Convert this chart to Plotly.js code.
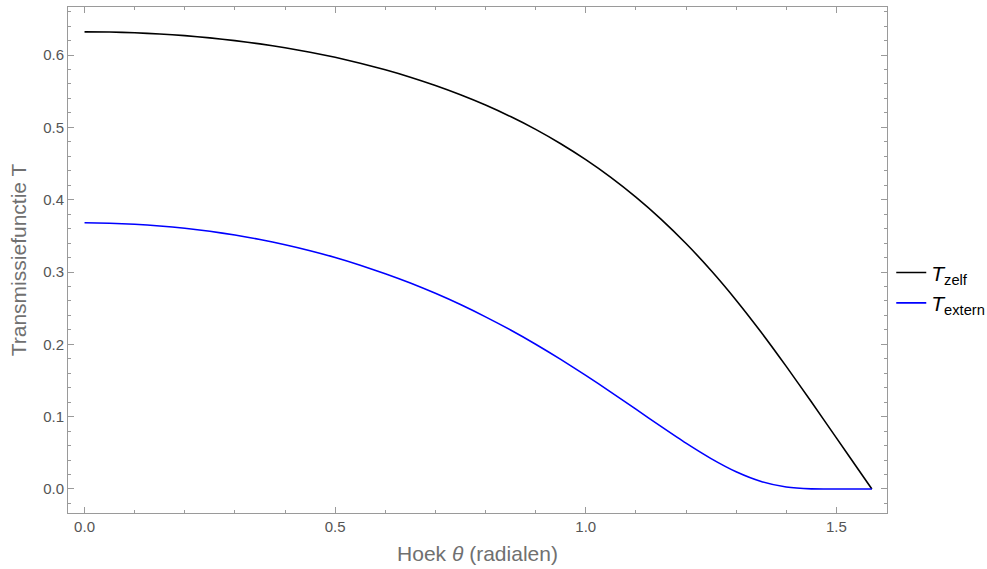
<!DOCTYPE html>
<html>
<head>
<meta charset="utf-8">
<script src="https://cdn.plot.ly/plotly-3.0.1.min.js"></script>
<style>html,body{margin:0;padding:0;background:#fff;}#chart{width:987px;height:569px;}</style>
</head>
<body>
<div id="chart"></div>
<script>
const theta = [0, 0.05, 0.1, 0.15, 0.2, 0.25, 0.3, 0.35, 0.4, 0.45, 0.5, 0.55, 0.6, 0.65, 0.7, 0.75, 0.8, 0.85, 0.9, 0.95, 1.0, 1.05, 1.1, 1.15, 1.2, 1.25, 1.3, 1.35, 1.4, 1.45, 1.5, 1.55, 1.5708];
const tZelf = [0.632, 0.6318, 0.6308, 0.6291, 0.6268, 0.6237, 0.6199, 0.6154, 0.6100, 0.6039, 0.5968, 0.5887, 0.5796, 0.5694, 0.5579, 0.5451, 0.5309, 0.5149, 0.4972, 0.4774, 0.4554, 0.4309, 0.4036, 0.3732, 0.3394, 0.3021, 0.2611, 0.2167, 0.1695, 0.1205, 0.0707, 0.0208, 0.0];
const tExtern = [0.368, 0.3674, 0.3660, 0.3637, 0.3605, 0.3563, 0.3511, 0.3449, 0.3377, 0.3294, 0.3200, 0.3094, 0.2977, 0.2848, 0.2705, 0.2550, 0.2380, 0.2198, 0.2002, 0.1792, 0.1571, 0.1340, 0.1103, 0.0865, 0.0633, 0.0420, 0.0238, 0.0104, 0.0028, 0.0002, 0.0, 0.0, 0.0];
const seriesNames = ['<i>T</i><sub>zelf</sub>', '<i>T</i><sub>extern</sub>'];
const xTitle = 'Hoek <i>θ</i> (radialen)';
const yTitle = 'Transmissiefunctie T';

const traces = [
  {x: theta, y: tZelf, name: seriesNames[0], mode: 'lines', line: {color: '#000000', width: 1.6, shape: 'spline', smoothing: 0.6}},
  {x: theta, y: tExtern, name: seriesNames[1], mode: 'lines', line: {color: '#0000ff', width: 1.6, shape: 'spline', smoothing: 0.6}}
];

const axisCommon = {
  showline: true, linecolor: '#9a9a9a', linewidth: 1, mirror: 'allticks',
  ticks: 'inside', ticklen: 6, tickcolor: '#9a9a9a', tickwidth: 1,
  showgrid: false, zeroline: false,
  tickfont: {family: 'Liberation Sans, Arial, sans-serif', size: 15, color: '#555555'}
};

const layout = {
  width: 987, height: 569,
  margin: {l: 68, r: 100, t: 7, b: 56, autoexpand: false},
  paper_bgcolor: '#ffffff', plot_bgcolor: '#ffffff',
  showlegend: true,
  legend: {xref: 'container', yref: 'container', x: 0.903, y: 0.494, xanchor: 'left', yanchor: 'middle',
           itemwidth: 30, tracegroupgap: 0,
           font: {family: 'Liberation Sans, Arial, sans-serif', size: 21, color: '#000000'}, bgcolor: 'rgba(0,0,0,0)'},
  xaxis: Object.assign({}, axisCommon, {
    range: [-0.033, 1.601], tick0: 0, dtick: 0.5, tickformat: '.1f',
    minor: {dtick: 0.1, ticklen: 3, tickcolor: '#9a9a9a', ticks: 'inside'},
    title: {text: xTitle, font: {family: 'Liberation Sans, Arial, sans-serif', size: 21, color: '#707070'}, standoff: 12}
  }),
  yaxis: Object.assign({}, axisCommon, {
    range: [-0.0332, 0.6664], tick0: 0, dtick: 0.1, tickformat: '.1f',
    minor: {dtick: 0.02, ticklen: 3, tickcolor: '#9a9a9a', ticks: 'inside'},
    title: {text: yTitle, font: {family: 'Liberation Sans, Arial, sans-serif', size: 21, color: '#707070'}, standoff: 10}
  })
};

Plotly.newPlot('chart', traces, layout, {displayModeBar: false, staticPlot: true});
</script>
</body>
</html>
